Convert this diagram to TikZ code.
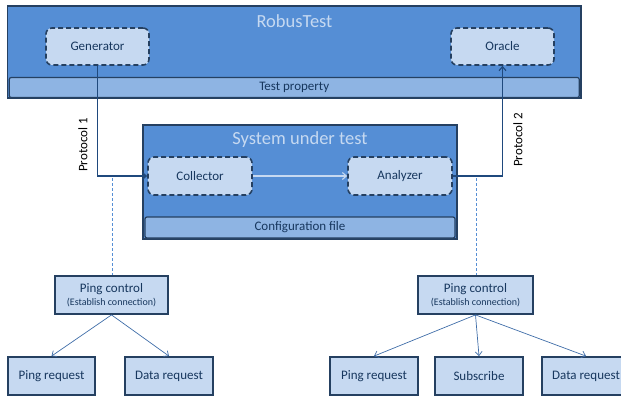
\documentclass[tikz,border=0pt]{standalone}
\usepackage{fontspec}
\setmainfont{Carlito}
\usetikzlibrary{arrows.meta}
\definecolor{midblue}{HTML}{558ED5}
\definecolor{lightfill}{HTML}{C6D9F1}
\definecolor{barfill}{HTML}{8EB4E3}
\definecolor{darkline}{HTML}{254061}
\definecolor{darktext}{HTML}{17375E}
\definecolor{protoline}{HTML}{1F497D}
\definecolor{thinarrow}{HTML}{3F6DA8}
\definecolor{dashline}{HTML}{558ED5}
\tikzset{
  outerbox/.style={draw=darkline, line width=1.5pt, fill=midblue, inner sep=0pt},
  titletext/.style={text=lightfill, font=\fontsize{18.5}{20}\selectfont, inner sep=0pt},
  compbox/.style={draw=darkline, line width=1.6pt, dash pattern=on 5pt off 3pt, fill=lightfill, rounded corners=6pt, inner sep=0pt, text=darktext, font=\fontsize{13}{15}\selectfont},
  barbox/.style={draw=darkline, line width=1.2pt, fill=barfill, rounded corners=2pt, inner sep=0pt, text=darktext, font=\fontsize{13}{15}\selectfont},
  plainbox/.style={draw=darkline, line width=1.8pt, fill=lightfill, inner sep=0pt, text=darktext, font=\fontsize{13}{15}\selectfont, align=center},
  protoarrow/.style={draw=protoline, line width=1.5pt, -{Straight Barb[length=4pt,width=7pt,line width=1.2pt]}},
  lightarrow/.style={draw=lightfill, line width=1.3pt, -{Straight Barb[length=4pt,width=7pt,line width=1.1pt]}},
  thinarrowst/.style={draw=thinarrow, line width=0.7pt, -{Straight Barb[length=4pt,width=7pt,line width=0.7pt]}},
  dashv/.style={draw=dashline, line width=0.6pt, dash pattern=on 3pt off 2pt},
  protolabel/.style={rotate=90, text=black, font=\fontsize{13}{15}\selectfont, inner sep=0pt}
}
\begin{document}
\begin{tikzpicture}[x=1pt,y=-1pt]
\useasboundingbox (0,0) rectangle (621,396);
% RobusTest
\node[outerbox, minimum width=573.5pt, minimum height=92pt] (rt) at (294.25,52) {};
\node[titletext] (rtt) at (294.5,21) {RobusTest};
\node[compbox, minimum width=103pt, minimum height=37pt] (gen) at (97.5,46.5) {Generator};
\node[compbox, minimum width=103pt, minimum height=37pt] (ora) at (502.5,46.5) {Oracle};
\node[barbox, minimum width=570pt, minimum height=20pt] (tp) at (294.25,87.5) {Test property};
% System under test
\node[outerbox, minimum width=314pt, minimum height=114pt] (sut) at (300,182) {};
\node[titletext] (sutt) at (300,140) {System under test};
\node[compbox, minimum width=104pt, minimum height=38pt] (coll) at (200,176) {Collector};
\node[compbox, minimum width=104pt, minimum height=38pt] (ana) at (400,176) {Analyzer};
\node[barbox, minimum width=310pt, minimum height=21pt] (cfg) at (300,227.5) {Configuration file};
% connectors
\draw[lightarrow] (coll.east) -- (ana.west);
\draw[protoarrow] (gen.south) |- (coll.west);
\draw[protoarrow] (ana.east) -| (ora.south);
\node[protolabel] (p1) at (83,145) {Protocol 1};
\node[protolabel] (p2) at (518,140) {Protocol 2};
% ping control
\node[plainbox, minimum width=113pt, minimum height=38pt] (pc1) at (111.5,295) {Ping control\\[-2pt]{\fontsize{10}{11}\selectfont (Establish connection)}};
\node[plainbox, minimum width=115pt, minimum height=38pt] (pc2) at (475.5,295) {Ping control\\[-2pt]{\fontsize{10}{11}\selectfont (Establish connection)}};
\coordinate (d1) at (112,178);
\coordinate (d2) at (476,178);
\draw[dashv] (d1) -- (d1 |- pc1.north);
\draw[dashv] (d2) -- (d2 |- pc2.north);
% bottom boxes
\node[plainbox, minimum width=87pt, minimum height=38pt] (pr1) at (51.5,376) {Ping request};
\node[plainbox, minimum width=88pt, minimum height=38pt] (dr1) at (169,376) {Data request};
\node[plainbox, minimum width=88pt, minimum height=38pt] (pr2) at (374,376) {Ping request};
\node[plainbox, minimum width=88pt, minimum height=38pt] (sub) at (479,376) {Subscribe};
\node[plainbox, minimum width=88pt, minimum height=38pt] (dr2) at (586,376) {Data request};
\draw[thinarrowst] (pc1.south) -- (pr1.north);
\draw[thinarrowst] (pc1.south) -- (dr1.north);
\draw[thinarrowst] (pc2.south) -- (pr2.north);
\draw[thinarrowst] (pc2.south) -- (sub.north);
\draw[thinarrowst] (pc2.south) -- (dr2.north);
\end{tikzpicture}
\end{document}
